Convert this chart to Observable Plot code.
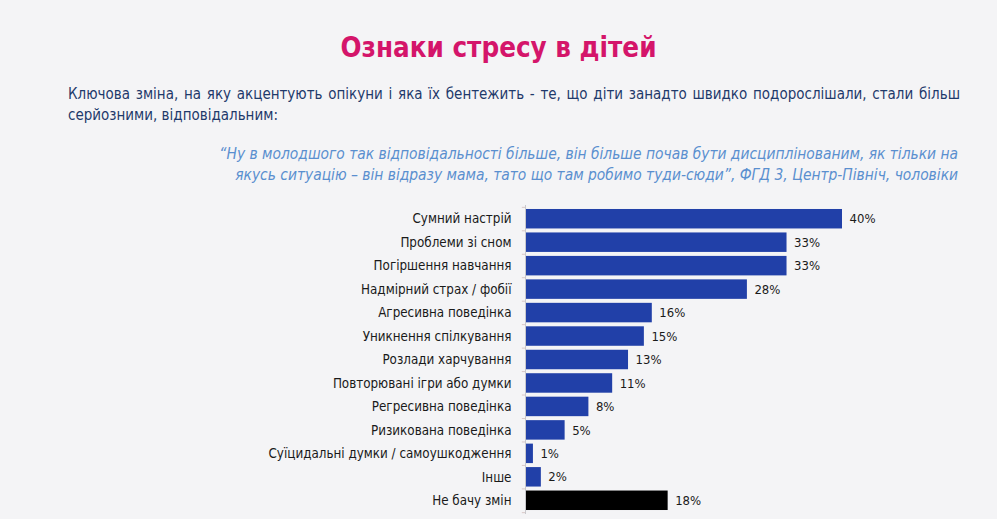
<!DOCTYPE html>
<html>
<head>
<meta charset="utf-8">
<script src="https://cdn.jsdelivr.net/npm/d3@7"></script>
<script src="https://cdn.jsdelivr.net/npm/@observablehq/plot@0.6"></script>
<style>
  html, body { margin: 0; padding: 0; background: #f4f4f6; }
  #page { position: relative; width: 997px; height: 519px; overflow: hidden; background: #f4f4f6;
    font-family: "Liberation Sans Narrow", "DejaVu Sans Condensed", "Open Sans", sans-serif; }
  #title { position: absolute; top: 31px; left: 0; width: 997px; text-align: center; font-size: 27.5px; font-weight: bold; color: #d4156a; }
  #sub { position: absolute; top: 84px; left: 68px; width: 892px; font-size: 15px; line-height: 21px; color: #1f3a6b; text-align: justify; }
  #quote { position: absolute; top: 144px; right: 39px; width: 800px; font-size: 15.4px; line-height: 21px; color: #5a8fcf; font-style: italic; text-align: right; }
  #chart { position: absolute; top: 200px; left: 0; }
</style>
</head>
<body>
<div id="page">
  <div id="title">Ознаки стресу в дітей</div>
  <div id="sub">Ключова зміна, на яку акцентують опікуни і яка їх бентежить - те, що діти занадто швидко подорослішали, стали більш серйозними, відповідальним:</div>
  <div id="quote">“Ну в молодшого так відповідальності більше, він більше почав бути дисциплінованим, як тільки на<br>якусь ситуацію – він відразу мама, тато що там робимо туди-сюди”, ФГД 3, Центр-Північ, чоловіки</div>
  <div id="chart"></div>
</div>
<script>
const categories = [
  "Сумний настрій",
  "Проблеми зі сном",
  "Погіршення навчання",
  "Надмірний страх / фобії",
  "Агресивна поведінка",
  "Уникнення спілкування",
  "Розлади харчування",
  "Повторювані ігри або думки",
  "Регресивна поведінка",
  "Ризикована поведінка",
  "Суїцидальні думки / самоушкодження",
  "Інше",
  "Не бачу змін"
];
const values = [40, 33, 33, 28, 16, 15, 13, 11, 8, 5, 1, 2, 18];
const noChangeCategory = "Не бачу змін";

const data = categories.map((c, i) => ({category: c, value: values[i]}));

const H = 319, MT = 5, MB = 5;
const step = (H - MT - MB) / categories.length;

const chart = Plot.plot({
  width: 997,
  height: H,
  marginLeft: 525,
  marginRight: 155,
  marginTop: MT,
  marginBottom: MB,
  style: {background: "transparent", fontSize: "13px", fontFamily: "\"Liberation Sans Narrow\", \"DejaVu Sans Condensed\", sans-serif", color: "#1a1a1a"},
  x: {domain: [0, 40], axis: null},
  y: {domain: categories, padding: 0.17, round: false, label: null},
  marks: [
    Plot.barX(data, {x: "value", y: "category", fill: d => d.category === noChangeCategory ? "#000000" : "#2140a8"}),
    Plot.ruleX([0], {stroke: "#c8c8cc", strokeWidth: 1}),
    Plot.ruleY(categories, {y: d => d, x1: -0.4, x2: 0, dy: -step / 2, stroke: "#d8c8c8", strokeWidth: 1}),
    Plot.ruleY(categories.slice(-1), {y: d => d, x1: -0.4, x2: 0, dy: step / 2, stroke: "#d8c8c8", strokeWidth: 1}),
    Plot.text(data, {x: "value", y: "category", text: d => d.value + "%", textAnchor: "start", dx: 7, fill: "#1a1a1a", fontSize: 13}),
    Plot.axisY({tickSize: 0, tickPadding: 14, fontSize: 13.3, fill: "#1a1a1a", label: null})
  ]
});
document.getElementById("chart").appendChild(chart);
</script>
</body>
</html>
